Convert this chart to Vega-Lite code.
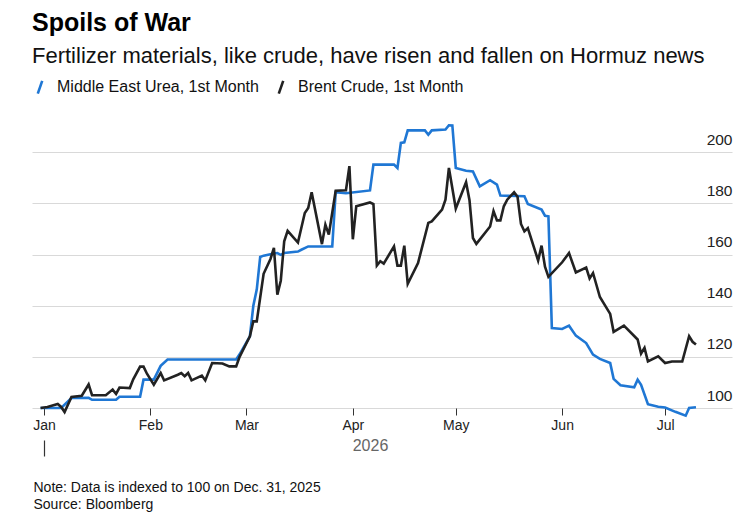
{
  "$schema": "https://vega.github.io/schema/vega-lite/v6.json",
  "width": 700,
  "height": 294,
  "autosize": {"type": "none"},
  "padding": {"left": 32, "top": 114, "right": 20, "bottom": 111},
  "background": "white",
  "config": {"font": "Liberation Sans", "view": {"stroke": null}},
  "title": {
    "text": "Spoils of War",
    "subtitle": "Fertilizer materials, like crude, have risen and fallen on Hormuz news",
    "anchor": "start",
    "frame": "group",
    "font": "Liberation Sans",
    "fontSize": 25,
    "fontWeight": "bold",
    "color": "#000000",
    "subtitleFont": "Liberation Sans",
    "subtitleFontSize": 22,
    "subtitleColor": "#111111",
    "subtitlePadding": 10,
    "offset": 12
  },
  "data": {"values": [
    {"d": "2025-12-31", "s": "Middle East Urea, 1st Month", "v": 100},
    {"d": "2026-01-06", "s": "Middle East Urea, 1st Month", "v": 100},
    {"d": "2026-01-09", "s": "Middle East Urea, 1st Month", "v": 103.9},
    {"d": "2026-01-14", "s": "Middle East Urea, 1st Month", "v": 104},
    {"d": "2026-01-15", "s": "Middle East Urea, 1st Month", "v": 103.2},
    {"d": "2026-01-22", "s": "Middle East Urea, 1st Month", "v": 103.2},
    {"d": "2026-01-23", "s": "Middle East Urea, 1st Month", "v": 104.4},
    {"d": "2026-01-29", "s": "Middle East Urea, 1st Month", "v": 104.4},
    {"d": "2026-01-30", "s": "Middle East Urea, 1st Month", "v": 111.1},
    {"d": "2026-02-02", "s": "Middle East Urea, 1st Month", "v": 111.1},
    {"d": "2026-02-04", "s": "Middle East Urea, 1st Month", "v": 116.5},
    {"d": "2026-02-06", "s": "Middle East Urea, 1st Month", "v": 119},
    {"d": "2026-02-26", "s": "Middle East Urea, 1st Month", "v": 119},
    {"d": "2026-02-27", "s": "Middle East Urea, 1st Month", "v": 121},
    {"d": "2026-03-02", "s": "Middle East Urea, 1st Month", "v": 128},
    {"d": "2026-03-03", "s": "Middle East Urea, 1st Month", "v": 140},
    {"d": "2026-03-04", "s": "Middle East Urea, 1st Month", "v": 146.3},
    {"d": "2026-03-05", "s": "Middle East Urea, 1st Month", "v": 159.1},
    {"d": "2026-03-06", "s": "Middle East Urea, 1st Month", "v": 159.6},
    {"d": "2026-03-09", "s": "Middle East Urea, 1st Month", "v": 160.4},
    {"d": "2026-03-10", "s": "Middle East Urea, 1st Month", "v": 160.6},
    {"d": "2026-03-11", "s": "Middle East Urea, 1st Month", "v": 159.9},
    {"d": "2026-03-12", "s": "Middle East Urea, 1st Month", "v": 160.6},
    {"d": "2026-03-16", "s": "Middle East Urea, 1st Month", "v": 161.2},
    {"d": "2026-03-17", "s": "Middle East Urea, 1st Month", "v": 161.9},
    {"d": "2026-03-19", "s": "Middle East Urea, 1st Month", "v": 163.2},
    {"d": "2026-03-26", "s": "Middle East Urea, 1st Month", "v": 163.2},
    {"d": "2026-03-27", "s": "Middle East Urea, 1st Month", "v": 184.4},
    {"d": "2026-03-30", "s": "Middle East Urea, 1st Month", "v": 184},
    {"d": "2026-04-06", "s": "Middle East Urea, 1st Month", "v": 185.1},
    {"d": "2026-04-07", "s": "Middle East Urea, 1st Month", "v": 195.2},
    {"d": "2026-04-13", "s": "Middle East Urea, 1st Month", "v": 195.2},
    {"d": "2026-04-14", "s": "Middle East Urea, 1st Month", "v": 193.9},
    {"d": "2026-04-15", "s": "Middle East Urea, 1st Month", "v": 203.7},
    {"d": "2026-04-16", "s": "Middle East Urea, 1st Month", "v": 203.9},
    {"d": "2026-04-17", "s": "Middle East Urea, 1st Month", "v": 208.6},
    {"d": "2026-04-22", "s": "Middle East Urea, 1st Month", "v": 208.6},
    {"d": "2026-04-23", "s": "Middle East Urea, 1st Month", "v": 206.9},
    {"d": "2026-04-24", "s": "Middle East Urea, 1st Month", "v": 208.6},
    {"d": "2026-04-28", "s": "Middle East Urea, 1st Month", "v": 208.9},
    {"d": "2026-04-29", "s": "Middle East Urea, 1st Month", "v": 210.6},
    {"d": "2026-04-30", "s": "Middle East Urea, 1st Month", "v": 210.5},
    {"d": "2026-05-01", "s": "Middle East Urea, 1st Month", "v": 193.9},
    {"d": "2026-05-04", "s": "Middle East Urea, 1st Month", "v": 192.8},
    {"d": "2026-05-06", "s": "Middle East Urea, 1st Month", "v": 192.5},
    {"d": "2026-05-08", "s": "Middle East Urea, 1st Month", "v": 186.7},
    {"d": "2026-05-11", "s": "Middle East Urea, 1st Month", "v": 189.1},
    {"d": "2026-05-13", "s": "Middle East Urea, 1st Month", "v": 187.4},
    {"d": "2026-05-14", "s": "Middle East Urea, 1st Month", "v": 183.1},
    {"d": "2026-05-21", "s": "Middle East Urea, 1st Month", "v": 182.8},
    {"d": "2026-05-22", "s": "Middle East Urea, 1st Month", "v": 179.8},
    {"d": "2026-05-26", "s": "Middle East Urea, 1st Month", "v": 177.6},
    {"d": "2026-05-27", "s": "Middle East Urea, 1st Month", "v": 175.2},
    {"d": "2026-05-28", "s": "Middle East Urea, 1st Month", "v": 175},
    {"d": "2026-05-29", "s": "Middle East Urea, 1st Month", "v": 131.3},
    {"d": "2026-06-01", "s": "Middle East Urea, 1st Month", "v": 130.9},
    {"d": "2026-06-03", "s": "Middle East Urea, 1st Month", "v": 132.2},
    {"d": "2026-06-05", "s": "Middle East Urea, 1st Month", "v": 128.3},
    {"d": "2026-06-08", "s": "Middle East Urea, 1st Month", "v": 125.4},
    {"d": "2026-06-10", "s": "Middle East Urea, 1st Month", "v": 120.9},
    {"d": "2026-06-12", "s": "Middle East Urea, 1st Month", "v": 119.2},
    {"d": "2026-06-15", "s": "Middle East Urea, 1st Month", "v": 117.6},
    {"d": "2026-06-16", "s": "Middle East Urea, 1st Month", "v": 111.4},
    {"d": "2026-06-18", "s": "Middle East Urea, 1st Month", "v": 108.9},
    {"d": "2026-06-22", "s": "Middle East Urea, 1st Month", "v": 108.1},
    {"d": "2026-06-23", "s": "Middle East Urea, 1st Month", "v": 111.1},
    {"d": "2026-06-24", "s": "Middle East Urea, 1st Month", "v": 109.1},
    {"d": "2026-06-26", "s": "Middle East Urea, 1st Month", "v": 101.5},
    {"d": "2026-06-29", "s": "Middle East Urea, 1st Month", "v": 100.5},
    {"d": "2026-07-01", "s": "Middle East Urea, 1st Month", "v": 100.2},
    {"d": "2026-07-04", "s": "Middle East Urea, 1st Month", "v": 98.5},
    {"d": "2026-07-07", "s": "Middle East Urea, 1st Month", "v": 97},
    {"d": "2026-07-08", "s": "Middle East Urea, 1st Month", "v": 100},
    {"d": "2026-07-10", "s": "Middle East Urea, 1st Month", "v": 100.3},
    {"d": "2025-12-31", "s": "Brent Crude, 1st Month", "v": 100},
    {"d": "2026-01-02", "s": "Brent Crude, 1st Month", "v": 100.4},
    {"d": "2026-01-05", "s": "Brent Crude, 1st Month", "v": 101.6},
    {"d": "2026-01-06", "s": "Brent Crude, 1st Month", "v": 100.4},
    {"d": "2026-01-07", "s": "Brent Crude, 1st Month", "v": 98.4},
    {"d": "2026-01-09", "s": "Brent Crude, 1st Month", "v": 104.3},
    {"d": "2026-01-12", "s": "Brent Crude, 1st Month", "v": 104.8},
    {"d": "2026-01-14", "s": "Brent Crude, 1st Month", "v": 109.2},
    {"d": "2026-01-15", "s": "Brent Crude, 1st Month", "v": 105},
    {"d": "2026-01-19", "s": "Brent Crude, 1st Month", "v": 105},
    {"d": "2026-01-21", "s": "Brent Crude, 1st Month", "v": 107.2},
    {"d": "2026-01-22", "s": "Brent Crude, 1st Month", "v": 105.5},
    {"d": "2026-01-23", "s": "Brent Crude, 1st Month", "v": 108},
    {"d": "2026-01-26", "s": "Brent Crude, 1st Month", "v": 107.8},
    {"d": "2026-01-27", "s": "Brent Crude, 1st Month", "v": 111.2},
    {"d": "2026-01-29", "s": "Brent Crude, 1st Month", "v": 116.2},
    {"d": "2026-01-30", "s": "Brent Crude, 1st Month", "v": 116.2},
    {"d": "2026-01-31", "s": "Brent Crude, 1st Month", "v": 113.4},
    {"d": "2026-02-02", "s": "Brent Crude, 1st Month", "v": 109.1},
    {"d": "2026-02-04", "s": "Brent Crude, 1st Month", "v": 113.7},
    {"d": "2026-02-05", "s": "Brent Crude, 1st Month", "v": 110.8},
    {"d": "2026-02-09", "s": "Brent Crude, 1st Month", "v": 113},
    {"d": "2026-02-10", "s": "Brent Crude, 1st Month", "v": 113.7},
    {"d": "2026-02-11", "s": "Brent Crude, 1st Month", "v": 112.4},
    {"d": "2026-02-12", "s": "Brent Crude, 1st Month", "v": 113.7},
    {"d": "2026-02-13", "s": "Brent Crude, 1st Month", "v": 110.8},
    {"d": "2026-02-16", "s": "Brent Crude, 1st Month", "v": 112.7},
    {"d": "2026-02-17", "s": "Brent Crude, 1st Month", "v": 110.8},
    {"d": "2026-02-19", "s": "Brent Crude, 1st Month", "v": 117.6},
    {"d": "2026-02-22", "s": "Brent Crude, 1st Month", "v": 117.4},
    {"d": "2026-02-24", "s": "Brent Crude, 1st Month", "v": 116.3},
    {"d": "2026-02-26", "s": "Brent Crude, 1st Month", "v": 116.3},
    {"d": "2026-02-27", "s": "Brent Crude, 1st Month", "v": 120},
    {"d": "2026-03-02", "s": "Brent Crude, 1st Month", "v": 128},
    {"d": "2026-03-03", "s": "Brent Crude, 1st Month", "v": 133.9},
    {"d": "2026-03-04", "s": "Brent Crude, 1st Month", "v": 133.9},
    {"d": "2026-03-06", "s": "Brent Crude, 1st Month", "v": 152.5},
    {"d": "2026-03-08", "s": "Brent Crude, 1st Month", "v": 158.3},
    {"d": "2026-03-09", "s": "Brent Crude, 1st Month", "v": 162.6},
    {"d": "2026-03-10", "s": "Brent Crude, 1st Month", "v": 144.3},
    {"d": "2026-03-11", "s": "Brent Crude, 1st Month", "v": 149.8},
    {"d": "2026-03-12", "s": "Brent Crude, 1st Month", "v": 165.2},
    {"d": "2026-03-13", "s": "Brent Crude, 1st Month", "v": 169.3},
    {"d": "2026-03-16", "s": "Brent Crude, 1st Month", "v": 164.7},
    {"d": "2026-03-18", "s": "Brent Crude, 1st Month", "v": 176.3},
    {"d": "2026-03-19", "s": "Brent Crude, 1st Month", "v": 178.2},
    {"d": "2026-03-20", "s": "Brent Crude, 1st Month", "v": 184.4},
    {"d": "2026-03-23", "s": "Brent Crude, 1st Month", "v": 164.1},
    {"d": "2026-03-24", "s": "Brent Crude, 1st Month", "v": 171.7},
    {"d": "2026-03-25", "s": "Brent Crude, 1st Month", "v": 167.8},
    {"d": "2026-03-27", "s": "Brent Crude, 1st Month", "v": 185},
    {"d": "2026-03-30", "s": "Brent Crude, 1st Month", "v": 185.2},
    {"d": "2026-03-31", "s": "Brent Crude, 1st Month", "v": 194.6},
    {"d": "2026-04-01", "s": "Brent Crude, 1st Month", "v": 166},
    {"d": "2026-04-02", "s": "Brent Crude, 1st Month", "v": 178.9},
    {"d": "2026-04-06", "s": "Brent Crude, 1st Month", "v": 180.4},
    {"d": "2026-04-07", "s": "Brent Crude, 1st Month", "v": 179.8},
    {"d": "2026-04-08", "s": "Brent Crude, 1st Month", "v": 155.7},
    {"d": "2026-04-09", "s": "Brent Crude, 1st Month", "v": 157.4},
    {"d": "2026-04-10", "s": "Brent Crude, 1st Month", "v": 156.5},
    {"d": "2026-04-13", "s": "Brent Crude, 1st Month", "v": 163.2},
    {"d": "2026-04-14", "s": "Brent Crude, 1st Month", "v": 155.7},
    {"d": "2026-04-15", "s": "Brent Crude, 1st Month", "v": 155.7},
    {"d": "2026-04-16", "s": "Brent Crude, 1st Month", "v": 163.5},
    {"d": "2026-04-17", "s": "Brent Crude, 1st Month", "v": 148.6},
    {"d": "2026-04-20", "s": "Brent Crude, 1st Month", "v": 156.7},
    {"d": "2026-04-23", "s": "Brent Crude, 1st Month", "v": 172.4},
    {"d": "2026-04-24", "s": "Brent Crude, 1st Month", "v": 173},
    {"d": "2026-04-27", "s": "Brent Crude, 1st Month", "v": 177.6},
    {"d": "2026-04-28", "s": "Brent Crude, 1st Month", "v": 181.5},
    {"d": "2026-04-29", "s": "Brent Crude, 1st Month", "v": 193.9},
    {"d": "2026-05-01", "s": "Brent Crude, 1st Month", "v": 178},
    {"d": "2026-05-04", "s": "Brent Crude, 1st Month", "v": 188.3},
    {"d": "2026-05-05", "s": "Brent Crude, 1st Month", "v": 181.3},
    {"d": "2026-05-06", "s": "Brent Crude, 1st Month", "v": 166.5},
    {"d": "2026-05-07", "s": "Brent Crude, 1st Month", "v": 164.2},
    {"d": "2026-05-11", "s": "Brent Crude, 1st Month", "v": 171},
    {"d": "2026-05-12", "s": "Brent Crude, 1st Month", "v": 177},
    {"d": "2026-05-13", "s": "Brent Crude, 1st Month", "v": 173.4},
    {"d": "2026-05-14", "s": "Brent Crude, 1st Month", "v": 173.4},
    {"d": "2026-05-15", "s": "Brent Crude, 1st Month", "v": 178.9},
    {"d": "2026-05-16", "s": "Brent Crude, 1st Month", "v": 181.5},
    {"d": "2026-05-18", "s": "Brent Crude, 1st Month", "v": 184.4},
    {"d": "2026-05-19", "s": "Brent Crude, 1st Month", "v": 182.6},
    {"d": "2026-05-20", "s": "Brent Crude, 1st Month", "v": 172},
    {"d": "2026-05-21", "s": "Brent Crude, 1st Month", "v": 169.1},
    {"d": "2026-05-22", "s": "Brent Crude, 1st Month", "v": 170.4},
    {"d": "2026-05-25", "s": "Brent Crude, 1st Month", "v": 157.7},
    {"d": "2026-05-26", "s": "Brent Crude, 1st Month", "v": 163.5},
    {"d": "2026-05-27", "s": "Brent Crude, 1st Month", "v": 155.3},
    {"d": "2026-05-28", "s": "Brent Crude, 1st Month", "v": 151.3},
    {"d": "2026-06-01", "s": "Brent Crude, 1st Month", "v": 157},
    {"d": "2026-06-03", "s": "Brent Crude, 1st Month", "v": 160.6},
    {"d": "2026-06-05", "s": "Brent Crude, 1st Month", "v": 153},
    {"d": "2026-06-08", "s": "Brent Crude, 1st Month", "v": 154.9},
    {"d": "2026-06-09", "s": "Brent Crude, 1st Month", "v": 150.7},
    {"d": "2026-06-10", "s": "Brent Crude, 1st Month", "v": 152.8},
    {"d": "2026-06-12", "s": "Brent Crude, 1st Month", "v": 143.4},
    {"d": "2026-06-15", "s": "Brent Crude, 1st Month", "v": 136.8},
    {"d": "2026-06-16", "s": "Brent Crude, 1st Month", "v": 129.8},
    {"d": "2026-06-19", "s": "Brent Crude, 1st Month", "v": 132.2},
    {"d": "2026-06-23", "s": "Brent Crude, 1st Month", "v": 126.8},
    {"d": "2026-06-24", "s": "Brent Crude, 1st Month", "v": 121.3},
    {"d": "2026-06-25", "s": "Brent Crude, 1st Month", "v": 123.5},
    {"d": "2026-06-26", "s": "Brent Crude, 1st Month", "v": 118.2},
    {"d": "2026-06-29", "s": "Brent Crude, 1st Month", "v": 120.2},
    {"d": "2026-07-01", "s": "Brent Crude, 1st Month", "v": 117.6},
    {"d": "2026-07-03", "s": "Brent Crude, 1st Month", "v": 118.2},
    {"d": "2026-07-06", "s": "Brent Crude, 1st Month", "v": 118.2},
    {"d": "2026-07-08", "s": "Brent Crude, 1st Month", "v": 128.1},
    {"d": "2026-07-09", "s": "Brent Crude, 1st Month", "v": 125.9},
    {"d": "2026-07-10", "s": "Brent Crude, 1st Month", "v": 124.8}
  ]},
  "encoding": {
    "y": {
      "field": "v",
      "type": "quantitative",
      "scale": {"domain": [100, 215], "nice": false, "zero": false},
      "axis": {
        "orient": "right",
        "values": [100, 120, 140, 160, 180, 200],
        "title": null,
        "domain": false,
        "ticks": false,
        "tickSize": 0,
        "labelPadding": 0,
        "labelAlign": "right",
        "labelBaseline": "alphabetic",
        "labelOffset": -8,
        "labelFontSize": 15.5,
        "labelColor": "#222222",
        "grid": true,
        "gridColor": "#d9d9d9",
        "gridWidth": 1
      }
    },
    "color": {
      "field": "s",
      "type": "nominal",
      "scale": {"domain": ["Middle East Urea, 1st Month", "Brent Crude, 1st Month"], "range": ["#1f77d4", "#222222"]},
      "legend": {
        "orient": "none",
        "legendX": 0,
        "legendY": -35,
        "direction": "horizontal",
        "title": null,
        "labelFontSize": 16,
        "labelColor": "#111111",
        "labelLimit": 400,
        "labelOffset": 9,
        "columnPadding": 14,
        "symbolType": "M-0.35,1L0.35,-1",
        "symbolSize": 160,
        "symbolStrokeWidth": 2.6,
        "padding": 0
      }
    }
  },
  "layer": [
    {
      "transform": [{"filter": "datum.s === 'Middle East Urea, 1st Month'"}],
      "mark": {"type": "line", "strokeWidth": 2.6},
      "encoding": {
        "x": {
          "field": "d",
          "type": "temporal",
          "scale": {"type": "utc", "domain": [1766923200000, 1784548800000]},
          "axis": {
            "orient": "bottom",
            "tickCount": {"interval": "month", "step": 1},
            "format": "%b",
            "labelFlush": false,
            "labelFontSize": 14,
            "labelColor": "#222222",
            "labelPadding": 3,
            "tickSize": 7,
            "tickColor": "#333333",
            "domain": false,
            "grid": false,
            "title": "2026",
            "titleFontSize": 16,
            "titleFontWeight": "normal",
            "titleColor": "#666666",
            "titleX": 338,
            "titleY": 42,
            "titleAlign": "center",
            "titleBaseline": "alphabetic"
          }
        }
      }
    },
    {
      "transform": [{"filter": "datum.s === 'Brent Crude, 1st Month'"}],
      "mark": {"type": "line", "strokeWidth": 2.6},
      "encoding": {
        "x": {
          "field": "d",
          "type": "temporal",
          "scale": {"type": "utc", "domain": [1766923200000, 1784548800000]},
          "axis": {
            "orient": "bottom",
            "values": [1767225600000],
            "labels": false,
            "domain": false,
            "grid": false,
            "ticks": true,
            "tickSize": 16,
            "tickWidth": 1.2,
            "tickColor": "#333333",
            "offset": 32,
            "title": ["Note: Data is indexed to 100 on Dec. 31, 2025", "Source: Bloomberg"],
            "titleFontSize": 14,
            "titleFontWeight": "normal",
            "titleColor": "#111111",
            "titleAlign": "left",
            "titleAnchor": "start",
            "titleX": 1,
            "titleY": 51,
            "titleBaseline": "alphabetic",
            "titleLineHeight": 17
          }
        }
      }
    }
  ],
  "resolve": {"axis": {"x": "independent"}}
}
